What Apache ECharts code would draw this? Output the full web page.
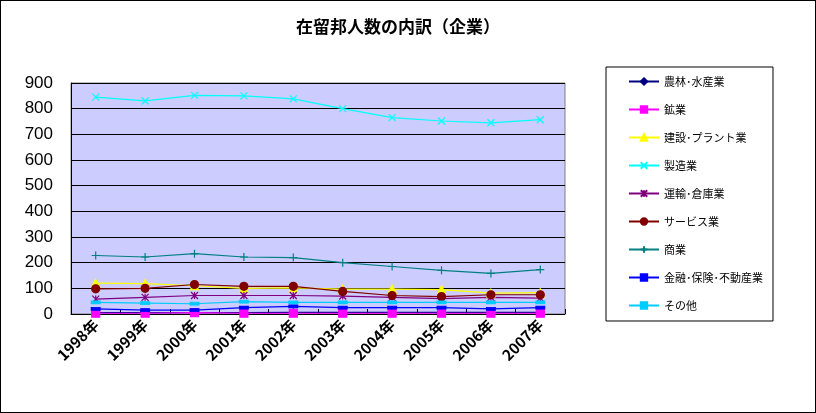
<!DOCTYPE html><html><head><meta charset="utf-8"><script src="https://cdn.jsdelivr.net/npm/echarts@6/dist/echarts.min.js"></script>
<style>body{margin:0}#c{width:816px;height:413px;box-sizing:border-box;border:1px solid #000}</style></head><body><div id="c"></div><script>
const years=['1998年','1999年','2000年','2001年','2002年','2003年','2004年','2005年','2006年','2007年'];
const names=['農林･水産業','鉱業','建設･プラント業','製造業','運輸･倉庫業','サービス業','商業','金融･保険･不動産業','その他'];
const agri=[5,5,5,5,6,6,6,6,6,6];
const mining=[3,3,5,3,3,3,3,3,3,3];
const constr=[120,118,110,100,102,97,97,95,81,83];
const manuf=[845,830,852,850,838,800,765,752,745,757];
const trans=[58,65,72,72,72,70,65,60,65,62];
const serv=[98,100,115,108,108,88,72,68,75,75];
const comm=[228,222,235,222,220,200,185,170,158,173];
const fin=[20,15,15,25,30,25,25,25,20,25];
const other=[45,42,40,48,45,45,45,45,45,45];
const data=[agri,mining,constr,manuf,trans,serv,comm,fin,other];
const colors=['#000080','#ff00ff','#ffff00','#00ffff','#800080','#800000','#008080','#0000ff','#00ccff'];
const X='path://M0,0L10,10M10,0L0,10';
const STAR='path://M0,0L10,10M10,0L0,10M5,0L5,10';
const PLUS='path://M5,0L5,10M0,5L10,5';
const DASH='path://M0,4L10,4L10,6L0,6Z';
const syms=['diamond','rect','triangle',X,STAR,'circle',PLUS,DASH,DASH];
const sz=[7,8,8,7,7,8,8,[8,3],[8,3]];
const c=echarts.init(document.getElementById('c'));
c.setOption({animation:false,
title:{text:'在留邦人数の内訳（企業）',left:290,top:12,textStyle:{fontFamily:'Noto Sans CJK JP',fontSize:17,fontWeight:'bold',color:'#000'}},
legend:{orient:'vertical',left:605,top:66,width:190,height:272,itemGap:17,padding:[9,10,10,22],borderColor:'#000',borderWidth:1,itemWidth:30,itemHeight:8,
 textStyle:{fontFamily:'Noto Sans CJK JP',fontSize:11,color:'#000'},data:names},
grid:{left:70,right:250,top:82,bottom:98,backgroundColor:'#ccccff',show:true,borderColor:'#808080',borderWidth:1},
xAxis:{type:'category',data:years,boundaryGap:true,axisTick:{show:true,inside:true,lineStyle:{color:'#000'}},axisLine:{lineStyle:{color:'#000'}},
 axisLabel:{rotate:45,fontFamily:'Noto Sans CJK JP',fontSize:15,fontWeight:'bold',color:'#000',margin:8}},
yAxis:{type:'value',min:0,max:900,interval:100,axisLine:{show:true,lineStyle:{color:'#000'}},axisTick:{show:false},
 splitLine:{lineStyle:{color:'#000'}},axisLabel:{fontFamily:'Liberation Sans',fontSize:17,color:'#000',margin:18}},
series:names.map((n,i)=>({name:n,type:'line',data:data[i],color:colors[i],symbol:syms[i],symbolSize:sz[i],
 showSymbol:true,lineStyle:{width:1.2,color:colors[i]},itemStyle:{color:colors[i],borderColor:colors[i],borderWidth:1.2}}))
});
</script></body></html>
